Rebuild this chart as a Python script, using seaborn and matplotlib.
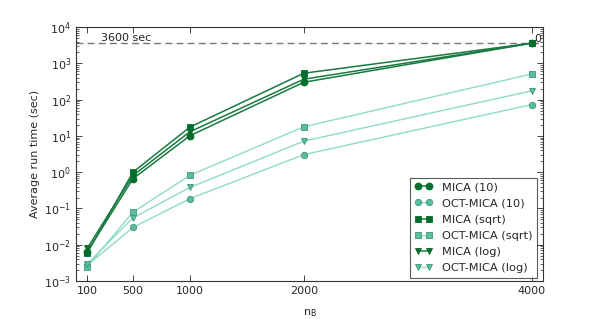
import numpy as np
import pandas as pd
import matplotlib
matplotlib.use('Agg')
import matplotlib.pyplot as plt
import seaborn as sns

# data
n_b = [100, 500, 1000, 2000, 4000]
mica_10 = [0.0065, 0.66, 10.1, 302, 3600]
oct_mica_10 = [0.0027, 0.030, 0.186, 3.05, 73]
mica_sqrt = [0.0060, 1.0, 17.5, 535, 3600]
oct_mica_sqrt = [0.0025, 0.079, 0.82, 17.9, 510]
mica_log = [0.0081, 0.81, 13.0, 366, 3600]
oct_mica_log = [0.0030, 0.055, 0.38, 7.2, 175]
timeout = 3600

series = [
    ('MICA (10)', mica_10, 'o', True),
    ('OCT-MICA (10)', oct_mica_10, 'o', False),
    ('MICA (sqrt)', mica_sqrt, 's', True),
    ('OCT-MICA (sqrt)', oct_mica_sqrt, 's', False),
    ('MICA (log)', mica_log, 'v', True),
    ('OCT-MICA (log)', oct_mica_log, 'v', False),
]

sns.set_style('ticks')
plt.rcParams['font.family'] = ['DejaVu Sans']
plt.rcParams['font.size'] = 9
plt.rcParams['mathtext.default'] = 'regular'

dark_line = '#197a41'
dark_face = '#006d2c'
light_line = '#8fdcc0'
light_face = '#5bbd9a'
light_edge = '#3a9a78'

fig, ax = plt.subplots(figsize=(5.98, 3.19), dpi=100)
fig.subplots_adjust(left=0.127, right=0.908, top=0.915, bottom=0.119)

for name, vals, mk, dark in series:
    df = pd.DataFrame({'n': n_b, 't': vals})
    if dark:
        sns.lineplot(data=df, x='n', y='t', ax=ax, color=dark_line, lw=1.1,
                     marker=mk, markersize=5, markerfacecolor=dark_face,
                     markeredgecolor=dark_face, markeredgewidth=0.6, label=name)
    else:
        sns.lineplot(data=df, x='n', y='t', ax=ax, color=light_line, lw=1.0,
                     marker=mk, markersize=4.6, markerfacecolor=light_face,
                     markeredgecolor=light_edge, markeredgewidth=0.6, label=name)

ax.axhline(timeout, color='#777777', ls='--', lw=1.0, dashes=(5, 3), zorder=0)
ax.text(222, timeout * 1.12, '3600 sec', fontsize=8, color='#222222')
ax.text(4020, timeout * 1.08, '0', fontsize=8, color='#222222')

ax.set_yscale('log')
ax.set_ylim(1e-3, 1e4)
ax.set_xlim(0, 4100)
ax.set_xticks(n_b)
ax.set_xticklabels([str(v) for v in n_b], fontsize=8)
ax.tick_params(axis='both', which='both', direction='in', top=True, right=True)
ax.tick_params(axis='both', which='major', length=4, width=0.6, labelsize=8)
ax.tick_params(axis='y', which='minor', length=2, width=0.5)
for sp in ax.spines.values():
    sp.set_linewidth(0.8)
    sp.set_color('#333333')

ax.set_xlabel('$n_B$', fontsize=8, labelpad=8)
ax.set_ylabel('Average run time (sec)', fontsize=8, labelpad=3)

leg = ax.legend(loc='lower right', bbox_to_anchor=(0.987, 0.012), borderaxespad=0,
                numpoints=2, fontsize=8.2, frameon=True, fancybox=False,
                handlelength=1.6, labelspacing=0.55)
leg.get_frame().set_edgecolor('#333333')
leg.get_frame().set_linewidth(0.8)

fig.savefig('out.png', dpi=100)
